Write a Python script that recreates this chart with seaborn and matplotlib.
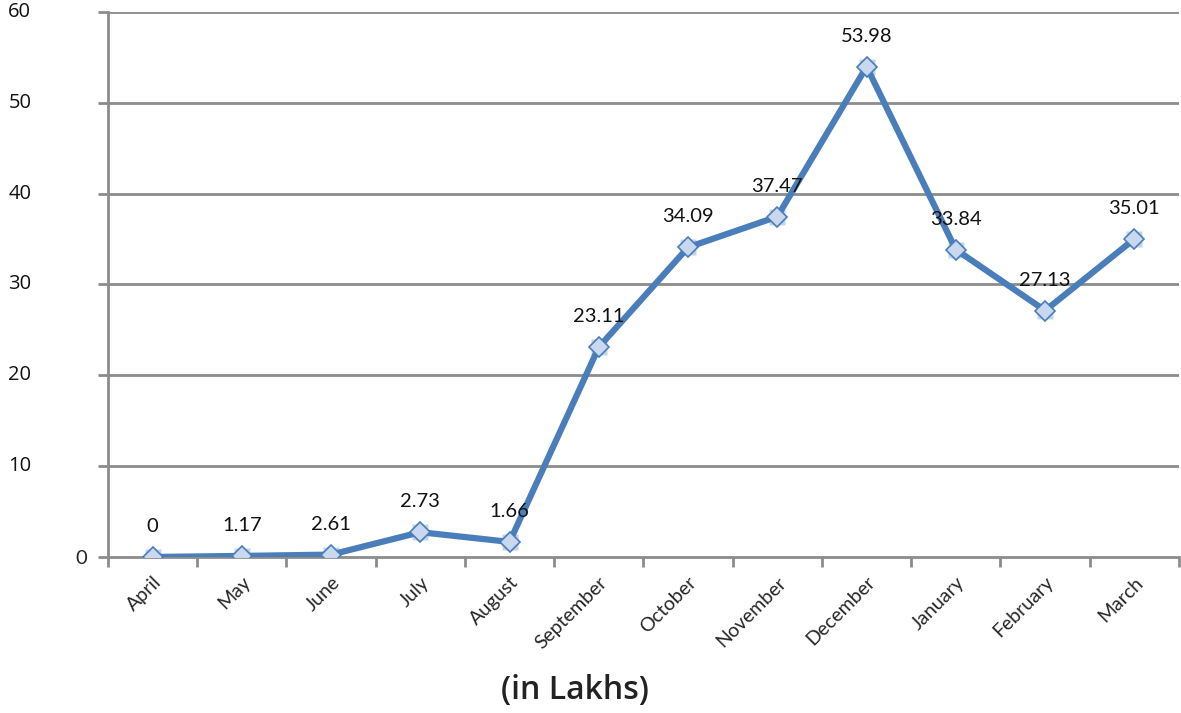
import numpy as np
import pandas as pd
import matplotlib
matplotlib.use("Agg")
import matplotlib.pyplot as plt
import matplotlib.transforms as mtransforms
import seaborn as sns

# Monthly values (in Lakhs) as plotted, and the labels shown on the chart
months = ["April", "May", "June", "July", "August", "September",
          "October", "November", "December", "January", "February", "March"]
values = [0, 0.117, 0.261, 2.73, 1.66, 23.11, 34.09, 37.47, 53.98, 33.84, 27.13, 35.01]
value_labels = ["0", "1.17", "2.61", "2.73", "1.66", "23.11", "34.09",
                "37.47", "53.98", "33.84", "27.13", "35.01"]
y_ticks = [0, 10, 20, 30, 40, 50, 60]

df = pd.DataFrame({"month": months, "value": values})
df["pos"] = np.arange(len(months))

sns.set_style("white")
plt.rcParams["font.family"] = ["Lato", "DejaVu Sans"]

line_color = "#4a7ebb"
grid_color = "#8c8c8c"

fig = plt.figure(figsize=(11.81, 7.13), dpi=100)
ax = fig.add_axes([0.0914, 0.2188, 0.9069, 0.7644])

# gridlines
for t in y_ticks[1:]:
    ax.axhline(t, color=grid_color, lw=2, zorder=1)

# soft square glow behind the markers
ax.plot(df["pos"], df["value"], ls="none", marker="s", ms=12,
        markerfacecolor="#b9cde5", markeredgecolor="none", alpha=0.85, zorder=3)
sns.lineplot(data=df, x="pos", y="value", ax=ax, color=line_color, lw=4.5,
             marker="D", markersize=10.5, markerfacecolor="#c9d8ee",
             markeredgecolor=line_color, markeredgewidth=1.2, zorder=4)

for x, y, lab in zip(df["pos"], df["value"], value_labels):
    ax.annotate(lab, (x, y), xytext=(0, 22), textcoords="offset points",
                ha="center", va="center", fontsize=14.5, color="#111111", zorder=5)

ax.set_xlim(-0.5, len(months) - 0.5)
ax.set_ylim(0, 60)
ax.set_yticks(y_ticks)
# only the zero label sits next to the axis; the others are flush left
ax.set_yticklabels(["0"] + [""] * (len(y_ticks) - 1), fontsize=14.5)
left_tf = mtransforms.blended_transform_factory(fig.transFigure, ax.transData)
for t in y_ticks[1:]:
    ax.text(0.007, t, str(t), transform=left_tf, ha="left", va="center",
            fontsize=14.5, color="#111111", family=["Open Sans", "DejaVu Sans"])

ax.set_xticks(df["pos"])
ax.set_xticklabels(months, rotation=45, ha="right", rotation_mode="anchor", fontsize=14)
ax.set_xticks(np.arange(-0.5, len(months)), minor=True)
ax.tick_params(axis="x", which="major", bottom=True, length=0, pad=12)
ax.tick_params(axis="x", which="minor", bottom=True, length=7, width=2,
               color=grid_color, direction="out")
ax.tick_params(axis="y", left=True, length=7, width=2, color=grid_color,
               direction="out", pad=8)
ax.set_xlabel("")
ax.set_ylabel("")

for side in ["top", "right"]:
    ax.spines[side].set_visible(False)
for side in ["left", "bottom"]:
    ax.spines[side].set_color(grid_color)
    ax.spines[side].set_linewidth(2)

fig.text(0.487, 0.032, "(in Lakhs)", ha="center", va="center",
         fontsize=23, fontweight="semibold", color="#222222",
         family=["Open Sans", "DejaVu Sans"])

fig.savefig("out.png", dpi=100)
